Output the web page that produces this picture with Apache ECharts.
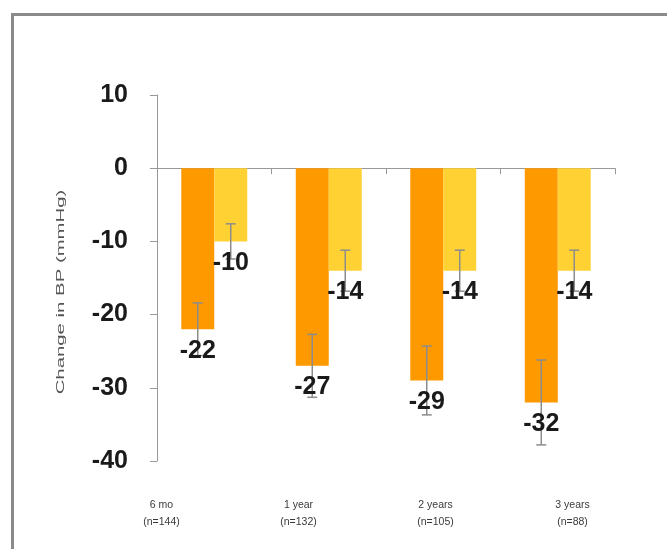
<!DOCTYPE html>
<html>
<head>
<meta charset="utf-8">
<script src="https://cdn.jsdelivr.net/npm/echarts@6/dist/echarts.min.js"></script>
<style>
  html, body { margin: 0; padding: 0; background: #fff; }
  #chart { width: 667px; height: 549px; }
</style>
</head>
<body>
<div id="chart"></div>
<script>
// Follow-up time points and patient counts
const categories = ['6 mo\n(n=144)', '1 year\n(n=132)', '2 years\n(n=105)', '3 years\n(n=88)'];
// Mean change in systolic / diastolic BP (mmHg)
const systolic = [-22, -27, -29, -32];
const diastolic = [-10, -14, -14, -14];
// Error bar half-widths (mmHg)
const systolicErr = [3.6, 4.3, 4.7, 5.8];
const diastolicErr = [2.4, 2.8, 2.8, 2.8];
// Value axis ticks
const yMin = -40, yMax = 10, yStep = 10;
const yTitle = 'Change in BP (mmHg)';

const ORANGE = '#FF9900';
const YELLOW = '#FFD133';
const BAR_FRAC = 0.288; // bar width as a share of the category band
const FONT = '"Liberation Sans", Arial, sans-serif';

const chart = echarts.init(document.getElementById('chart'));

// Error bar plus value label for one series; side = -1 (left bar) or +1 (right bar)
function errorRenderer(side) {
  return function (params, api) {
    const cat = api.value(0);
    const val = api.value(1);
    const err = api.value(2);
    const band = api.size([1, 0])[0];
    const bw = band * BAR_FRAC;
    const c = api.coord([cat, val]);
    const x = c[0] + side * bw / 2;
    const yTop = api.coord([cat, val + err])[1];
    const yBot = api.coord([cat, val - err])[1];
    const cap = 5;
    const lineStyle = { stroke: '#8c8c8c', lineWidth: 1.5 };
    return {
      type: 'group',
      children: [
        { type: 'line', shape: { x1: x, y1: yTop, x2: x, y2: yBot }, style: lineStyle },
        { type: 'line', shape: { x1: x - cap, y1: yTop, x2: x + cap, y2: yTop }, style: lineStyle },
        { type: 'line', shape: { x1: x - cap, y1: yBot, x2: x + cap, y2: yBot }, style: lineStyle },
        {
          type: 'text',
          style: {
            text: String(val),
            x: x,
            y: c[1] + 9,
            align: 'center',
            verticalAlign: 'top',
            font: 'bold 25px ' + FONT,
            fill: '#1a1a1a'
          }
        }
      ]
    };
  };
}

chart.setOption({
  animation: false,
  backgroundColor: '#ffffff',
  graphic: [
    {
      type: 'rect',
      left: 10, top: 12,
      shape: { width: 700, height: 600 },
      style: { fill: 'none', stroke: '#8a8a8a', lineWidth: 3 },
      silent: true
    },
    {
      // value axis title, stretched along its length
      type: 'text',
      x: 61, y: 292,
      rotation: Math.PI / 2,
      scaleX: 1.85,
      style: {
        text: yTitle,
        align: 'center',
        verticalAlign: 'middle',
        font: '11px ' + FONT,
        fill: '#555555'
      },
      silent: true
    }
  ],
  grid: [
    { left: 157, right: 52, top: 95, bottom: 88 },
    // wider frame used only for the category captions
    { left: 93, right: 26, top: 95, bottom: 88 }
  ],
  xAxis: [
    {
      // axis line through zero with tick marks between groups
      type: 'category',
      gridIndex: 0,
      data: categories,
      axisLine: { onZero: true, lineStyle: { color: '#999999', width: 1 } },
      axisTick: { show: true, length: 6, inside: false, lineStyle: { color: '#999999' } },
      axisLabel: { show: false },
      splitLine: { show: false }
    },
    {
      // category captions along the bottom
      type: 'category',
      gridIndex: 1,
      data: categories,
      position: 'bottom',
      axisLine: { show: false, onZero: false },
      axisTick: { show: false },
      axisLabel: {
        margin: 36,
        fontSize: 10.5,
        lineHeight: 17,
        color: '#3a3a3a',
        fontFamily: FONT
      }
    }
  ],
  yAxis: [
    {
      type: 'value',
      gridIndex: 0,
      min: yMin, max: yMax, interval: yStep,
      axisLine: { show: true, lineStyle: { color: '#999999', width: 1 } },
      axisTick: { show: true, length: 7, lineStyle: { color: '#999999' } },
      axisLabel: {
        margin: 29,
        fontSize: 25,
        fontWeight: 'bold',
        color: '#1a1a1a',
        fontFamily: FONT
      },
      splitLine: { show: false }
    },
    {
      type: 'value',
      gridIndex: 1,
      min: yMin, max: yMax, interval: yStep,
      show: false
    }
  ],
  series: [
    {
      name: 'Systolic',
      type: 'bar',
      data: systolic,
      barWidth: (BAR_FRAC * 100) + '%',
      barGap: '0%',
      itemStyle: { color: ORANGE },
      z: 1
    },
    {
      name: 'Diastolic',
      type: 'bar',
      data: diastolic,
      barWidth: (BAR_FRAC * 100) + '%',
      barGap: '0%',
      itemStyle: { color: YELLOW },
      z: 1
    },
    {
      type: 'custom',
      renderItem: errorRenderer(-1),
      data: systolic.map((v, i) => [i, v, systolicErr[i]]),
      encode: { x: 0, y: 1 },
      z: 3
    },
    {
      type: 'custom',
      renderItem: errorRenderer(1),
      data: diastolic.map((v, i) => [i, v, diastolicErr[i]]),
      encode: { x: 0, y: 1 },
      z: 3
    }
  ]
});
</script>
</body>
</html>
